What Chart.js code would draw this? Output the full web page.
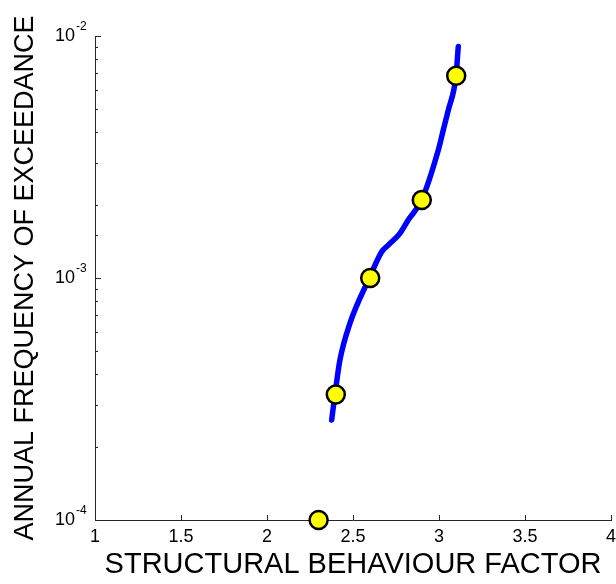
<!DOCTYPE html>
<html><head><meta charset="utf-8">
<script src="https://cdn.jsdelivr.net/npm/chart.js@4/dist/chart.umd.min.js"></script>
<style>html,body{margin:0;padding:0;background:#fff}#wrap{width:616px;height:584px}</style>
</head><body><div id="wrap"><canvas id="c" width="616" height="584"></canvas></div>
<script>
// ---- data ----
const curveX = [2.376, 2.395, 2.424, 2.483, 2.595, 2.667, 2.705, 2.773, 2.822, 2.899, 2.996, 3.025, 3.054, 3.099, 3.112];
const curveY = [2.59e-4, 3.29e-4, 4.58e-4, 6.52e-4, 1.0e-3, 1.285e-3, 1.367e-3, 1.53e-3, 1.74e-3, 2.10e-3, 3.38e-3, 4.09e-3, 4.94e-3, 6.86e-3, 9.04e-3];
const markerX = [2.3, 2.4, 2.6, 2.9, 3.1];
const markerY = [1.0e-4, 3.3e-4, 1.0e-3, 2.1e-3, 6.85e-3];
const xTickValues = [1, 1.5, 2, 2.5, 3, 3.5, 4];
const xTickLabels = ['1', '1.5', '2', '2.5', '3', '3.5', '4'];
const yDecadeExponents = [-4, -3, -2];
const xTitle = 'STRUCTURAL BEHAVIOUR FACTOR';
const yTitle = 'ANNUAL FREQUENCY OF EXCEEDANCE';

const FONT = '"Liberation Sans", Arial, Helvetica, sans-serif';
const AXIS_COLOR = '#262626';

const tickPlugin = {
  id: 'insideTicks',
  beforeDatasetsDraw(chart) {
    const ctx = chart.ctx;
    const xs = chart.scales.x, ys = chart.scales.y;
    const ca = chart.chartArea;
    ctx.save();
    ctx.strokeStyle = AXIS_COLOR;
    ctx.lineWidth = 1;
    ctx.beginPath();
    xTickValues.forEach(v => {
      const px = Math.round(xs.getPixelForValue(v)) + 0.5;
      ctx.moveTo(px, ca.bottom);
      ctx.lineTo(px, ca.bottom - 5);
    });
    ys.ticks.forEach(t => {
      const v = t.value;
      const e = Math.log10(v);
      const major = Math.abs(e - Math.round(e)) < 1e-9;
      const py = Math.round(ys.getPixelForValue(v)) + 0.5;
      ctx.moveTo(ca.left, py);
      ctx.lineTo(ca.left + (major ? 6 : 3), py);
    });
    ctx.stroke();
    ctx.restore();
  },
  afterDraw(chart) {
    const ctx = chart.ctx;
    const xs = chart.scales.x, ys = chart.scales.y;
    const ca = chart.chartArea;
    ctx.save();
    ctx.fillStyle = '#000';
    // x tick labels
    ctx.font = '18px ' + FONT;
    ctx.textAlign = 'center';
    ctx.textBaseline = 'middle';
    xTickValues.forEach((v, i) => {
      ctx.fillText(xTickLabels[i], xs.getPixelForValue(v), ca.bottom + 17);
    });
    // y tick labels with superscript exponents
    yDecadeExponents.forEach(e => {
      const py = ys.getPixelForValue(Math.pow(10, e));
      ctx.font = '18px ' + FONT;
      ctx.textAlign = 'right';
      ctx.textBaseline = 'middle';
      ctx.fillText('10', ca.left - 20, py);
      ctx.font = '12px ' + FONT;
      ctx.textAlign = 'left';
      ctx.fillText(String(e), ca.left - 19, py - 9);
    });
    ctx.restore();
  }
};

new Chart(document.getElementById('c'), {
  type: 'scatter',
  data: {
    datasets: [
      {
        type: 'line',
        data: curveX.map((x, i) => ({x, y: curveY[i]})),
        borderColor: '#0000ff',
        borderWidth: 5.5,
        borderCapStyle: 'round',
        borderJoinStyle: 'round',
        cubicInterpolationMode: 'monotone',
        pointRadius: 0,
        fill: false,
        order: 1,
        clip: false
      },
      {
        data: markerX.map((x, i) => ({x, y: markerY[i]})),
        backgroundColor: '#ffff00',
        borderColor: '#000000',
        borderWidth: 2.5,
        pointRadius: 9,
        showLine: false,
        order: 0,
        clip: false
      }
    ]
  },
  options: {
    responsive: false,
    devicePixelRatio: 1,
    animation: false,
    layout: { autoPadding: false, padding: { top: 36, right: 5, left: 0, bottom: 0 } },
    plugins: { legend: { display: false }, tooltip: { enabled: false } },
    scales: {
      x: {
        type: 'linear',
        min: 1, max: 4,
        afterBuildTicks: s => { s.ticks = xTickValues.map(v => ({value: v})); },
        afterFit: s => { s.height = 64; },
        ticks: { display: false, autoSkip: false },
        grid: { display: true, drawOnChartArea: false, drawTicks: false },
        border: { display: true, color: AXIS_COLOR, width: 1 },
        title: {
          display: true, text: xTitle, color: '#000',
          font: { family: FONT, size: 29 },
          padding: { top: 0, bottom: 2 }
        }
      },
      y: {
        type: 'logarithmic',
        min: 1e-4, max: 1e-2,
        afterFit: s => { s.width = 95; },
        ticks: { display: false, autoSkip: false },
        grid: { display: true, drawOnChartArea: false, drawTicks: false },
        border: { display: true, color: AXIS_COLOR, width: 1 },
        title: {
          display: true, text: yTitle, color: '#000',
          font: { family: FONT, size: 27 },
          padding: { top: 9, bottom: 0 }
        }
      }
    }
  },
  plugins: [tickPlugin]
});
</script>
</body></html>
